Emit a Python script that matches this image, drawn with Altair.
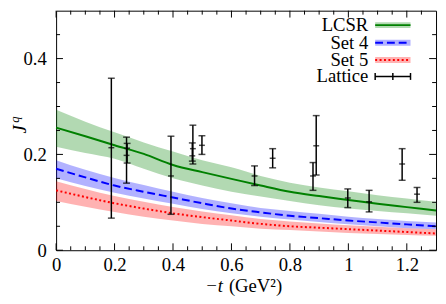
import altair as alt
import pandas as pd

# ---------------- data ----------------
x_grid = [0.0, 0.1, 0.2, 0.3, 0.4, 0.5, 0.6, 0.7, 0.8, 0.9, 1.0, 1.1, 1.2, 1.3]

lcsr_mid = [0.256, 0.238, 0.219, 0.201, 0.178, 0.163, 0.149, 0.135, 0.122, 0.113, 0.105, 0.097, 0.090, 0.083]
lcsr_hi  = [0.293, 0.268, 0.246, 0.225, 0.206, 0.188, 0.173, 0.155, 0.141, 0.131, 0.123, 0.115, 0.108, 0.101]
lcsr_lo  = [0.216, 0.203, 0.191, 0.170, 0.150, 0.135, 0.122, 0.112, 0.103, 0.094, 0.087, 0.082, 0.077, 0.072]

set4_mid = [0.170, 0.152, 0.135, 0.122, 0.110, 0.098, 0.087, 0.079, 0.072, 0.067, 0.062, 0.058, 0.054, 0.050]
set4_hi  = [0.188, 0.168, 0.151, 0.136, 0.122, 0.109, 0.098, 0.088, 0.082, 0.076, 0.070, 0.065, 0.061, 0.058]
set4_lo  = [0.150, 0.134, 0.120, 0.108, 0.097, 0.086, 0.077, 0.070, 0.064, 0.059, 0.054, 0.050, 0.046, 0.044]

set5_mid = [0.125, 0.111, 0.098, 0.087, 0.077, 0.069, 0.062, 0.055, 0.050, 0.047, 0.044, 0.041, 0.038, 0.035]
set5_hi  = [0.144, 0.128, 0.113, 0.101, 0.090, 0.081, 0.073, 0.065, 0.060, 0.056, 0.052, 0.049, 0.046, 0.044]
set5_lo  = [0.103, 0.091, 0.080, 0.070, 0.062, 0.055, 0.050, 0.045, 0.042, 0.039, 0.036, 0.034, 0.032, 0.030]

lat_x  = [0.189, 0.241, 0.243, 0.393, 0.468, 0.466, 0.499, 0.679, 0.741, 0.890, 0.879, 0.998, 1.071, 1.184, 1.235]
lat_y  = [0.214, 0.198, 0.213, 0.155, 0.212, 0.197, 0.219, 0.155, 0.192, 0.218, 0.155, 0.109, 0.101, 0.180, 0.117]
lat_lo = [0.067, 0.140, 0.182, 0.075, 0.180, 0.186, 0.200, 0.135, 0.172, 0.157, 0.125, 0.089, 0.080, 0.146, 0.100]
lat_hi = [0.359, 0.236, 0.223, 0.238, 0.261, 0.224, 0.239, 0.176, 0.212, 0.281, 0.183, 0.128, 0.125, 0.212, 0.131]

x_major = [0.0, 0.2, 0.4, 0.6, 0.8, 1.0, 1.2]
x_minor = [0.05, 0.1, 0.15, 0.25, 0.3, 0.35, 0.45, 0.5, 0.55, 0.65, 0.7, 0.75,
           0.85, 0.9, 0.95, 1.05, 1.1, 1.15, 1.25]
y_major = [0.0, 0.2, 0.4]
y_minor = [0.05, 0.1, 0.15, 0.25, 0.3, 0.35, 0.45]

legend_labels = ["LCSR", "Set 4", "Set 5", "Lattice"]
x_title_parts = ["−t", "(GeV²)"]

# ---------------- styling ----------------
FONT = "Liberation Serif"
FS = 19
W, H = 387, 244
GREEN, BLUE, RED = "#008000", "#0000ff", "#ff0000"

xs = alt.Scale(domain=[0, 1.3], nice=False, zero=False)
ys = alt.Scale(domain=[0, 0.5], nice=False, zero=False)

xaxis = alt.Axis(values=x_major, format=".1~f", ticks=False, domain=False, grid=False,
                 labelFlush=False, labelOverlap=False,
                 labelFont=FONT, labelFontSize=FS, labelColor="black", labelPadding=6,
                 title="")
yaxis = alt.Axis(values=y_major, format=".1~f", ticks=False, domain=False, grid=False,
                 labelFlush=False, labelOverlap=False,
                 labelFont=FONT, labelFontSize=FS, labelColor="black", labelPadding=10,
                 title="")

def X(f):
    return alt.X(f, type="quantitative", scale=xs, axis=xaxis)

def Y(f):
    return alt.Y(f, type="quantitative", scale=ys, axis=yaxis)

def curve_df(lo, mid, hi):
    return pd.DataFrame({"x": x_grid, "lo": lo, "mid": mid, "hi": hi})

def label(text, x, y, size=FS, style="normal", align="center", angle=0):
    kw = dict(font=FONT, fontSize=size, fontStyle=style, align=align,
              baseline="middle", color="black")
    if angle:
        kw["angle"] = angle
    return (alt.Chart(pd.DataFrame({"t": [text]})).mark_text(**kw)
            .encode(text="t:N", x=alt.value(x), y=alt.value(y)))

layers = []
sets = [(lcsr_lo, lcsr_mid, lcsr_hi, GREEN, []),
        (set4_lo, set4_mid, set4_hi, BLUE, [8, 4]),
        (set5_lo, set5_mid, set5_hi, RED, [2, 2.5])]

for lo, mid, hi, col, dash in sets:
    df = curve_df(lo, mid, hi)
    layers.append(alt.Chart(df).mark_area(color=col, opacity=0.3, interpolate="monotone")
                  .encode(x=X("x"), y=Y("lo"), y2="hi:Q"))
for lo, mid, hi, col, dash in sets:
    df = curve_df(lo, mid, hi)
    kw = dict(color=col, strokeWidth=2, interpolate="monotone")
    if dash:
        kw["strokeDash"] = dash
    layers.append(alt.Chart(df).mark_line(**kw).encode(x=X("x"), y=Y("mid")))

# lattice error bars
lat = pd.DataFrame({"x": lat_x, "y": lat_y, "lo": lat_lo, "hi": lat_hi})
layers.append(alt.Chart(lat).mark_rule(color="black", strokeWidth=1.5)
              .encode(x=X("x"), y=Y("lo"), y2="hi:Q"))
for fld, sz in [("lo", 7), ("hi", 7), ("y", 6)]:
    layers.append(alt.Chart(lat).mark_tick(color="black", orient="horizontal", size=sz, thickness=1.5)
                  .encode(x=X("x"), y=Y(fld)))

# inward ticks on all four sides
for vals, ln in [(x_major, 7), (x_minor, 4)]:
    d = pd.DataFrame({"v": vals})
    layers.append(alt.Chart(d).mark_rule(color="black", strokeWidth=1)
                  .encode(x=X("v"), y=alt.value(H), y2=alt.value(H - ln)))
    layers.append(alt.Chart(d).mark_rule(color="black", strokeWidth=1)
                  .encode(x=X("v"), y=alt.value(0), y2=alt.value(ln)))
for vals, ln in [(y_major, 7), (y_minor, 4)]:
    d = pd.DataFrame({"v": vals})
    layers.append(alt.Chart(d).mark_rule(color="black", strokeWidth=1)
                  .encode(y=Y("v"), x=alt.value(0), x2=alt.value(ln)))
    layers.append(alt.Chart(d).mark_rule(color="black", strokeWidth=1)
                  .encode(y=Y("v"), x=alt.value(W), x2=alt.value(W - ln)))

# axis titles
layers.append(label("J", -37, 121, style="italic", angle=270))
layers.append(label("q", -42, 111, size=13, style="italic", angle=270))
layers.append(label(x_title_parts[0], 170, H + 37, style="italic", align="right"))
layers.append(label(x_title_parts[1], 176, H + 37, align="left"))

# custom legend
LX_TEXT, LX0, LX1 = 318, 325, 361
row_y = [14.7, 32.7, 50.3, 67.0]
for i, lab in enumerate(legend_labels):
    yy = row_y[i]
    layers.append(label(lab, LX_TEXT, yy, align="right"))
    sd = pd.DataFrame({"t": [lab]})
    if i < 3:
        col, dash = sets[i][3], sets[i][4]
        layers.append(alt.Chart(sd).mark_rect(color=col, opacity=0.3)
                      .encode(x=alt.value(LX0), x2=alt.value(LX1), y=alt.value(yy - 3), y2=alt.value(yy + 3)))
        kw = dict(color=col, strokeWidth=2)
        if dash:
            kw["strokeDash"] = dash
        layers.append(alt.Chart(sd).mark_rule(**kw)
                      .encode(x=alt.value(LX0), x2=alt.value(LX1), y=alt.value(yy)))
    else:
        layers.append(alt.Chart(sd).mark_rule(color="black", strokeWidth=1.5)
                      .encode(x=alt.value(LX0), x2=alt.value(LX1), y=alt.value(yy)))
        for xx in [LX0, (LX0 + LX1) / 2, LX1]:
            layers.append(alt.Chart(sd).mark_rule(color="black", strokeWidth=1.5)
                          .encode(x=alt.value(xx), y=alt.value(yy - 3.5), y2=alt.value(yy + 3.5)))

chart = alt.layer(*layers).properties(
    width=W, height=H,
    autosize=alt.AutoSizeParams(type="none"),
    padding={"left": 49, "top": 0, "right": 2, "bottom": 50},
).configure_view(stroke="black", strokeWidth=1)

chart.save("out.html", embed_options={"renderer": "svg", "actions": False})
